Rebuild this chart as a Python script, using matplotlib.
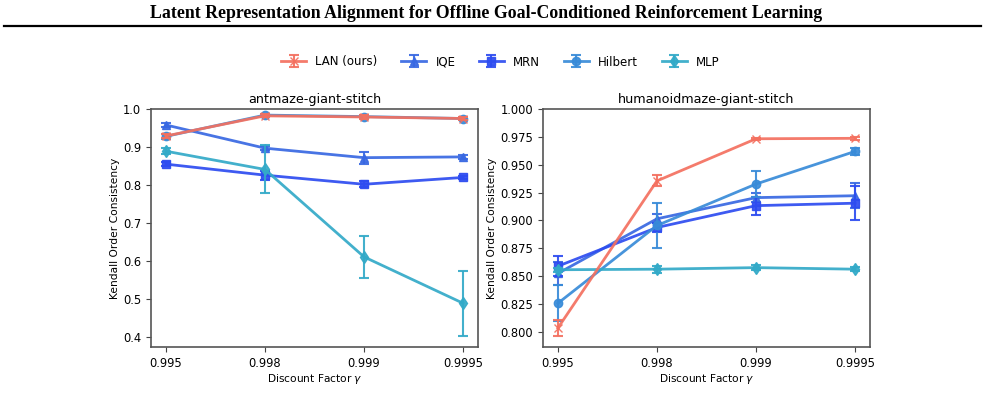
import numpy as np
import matplotlib.pyplot as plt
from matplotlib.lines import Line2D

gammas = ['0.995', '0.998', '0.999', '0.9995']
methods = ['LAN (ours)', 'IQE', 'MRN', 'Hilbert', 'MLP']
colors = ['#F4705F', '#3868E2', '#2D4CF0', '#388BD8', '#33AAC8']
markers = ['x', '^', 's', 'o', 'd']

# antmaze-giant-stitch
ant_mean = {
    'LAN (ours)': [0.929, 0.982, 0.979, 0.975],
    'IQE':        [0.958, 0.897, 0.872, 0.874],
    'MRN':        [0.855, 0.826, 0.802, 0.820],
    'Hilbert':    [0.928, 0.984, 0.980, 0.975],
    'MLP':        [0.889, 0.841, 0.611, 0.489],
}
ant_err = {
    'LAN (ours)': [0.006, 0.004, 0.004, 0.003],
    'IQE':        [0.005, 0.006, 0.016, 0.005],
    'MRN':        [0.006, 0.012, 0.008, 0.005],
    'Hilbert':    [0.006, 0.004, 0.004, 0.003],
    'MLP':        [0.008, 0.063, 0.056, 0.086],
}

# humanoidmaze-giant-stitch
hum_mean = {
    'LAN (ours)': [0.8035, 0.9355, 0.9733, 0.9737],
    'IQE':        [0.8525, 0.9015, 0.9205, 0.9222],
    'MRN':        [0.8590, 0.8937, 0.9133, 0.9155],
    'Hilbert':    [0.8257, 0.8955, 0.9327, 0.9620],
    'MLP':        [0.8558, 0.8563, 0.8577, 0.8563],
}
hum_err = {
    'LAN (ours)': [0.007, 0.005, 0.001, 0.0015],
    'IQE':        [0.010, 0.004, 0.004, 0.011],
    'MRN':        [0.009, 0.004, 0.008, 0.015],
    'Hilbert':    [0.016, 0.020, 0.012, 0.003],
    'MLP':        [0.002, 0.003, 0.002, 0.002],
}

plt.rcParams['font.family'] = 'DejaVu Sans'
fig = plt.figure(figsize=(9.85, 4.05), dpi=100)

# page header
fig.text(0.493, 1 - 13 / 405, 'Latent Representation Alignment for Offline Goal-Conditioned Reinforcement Learning',
         ha='center', va='center', fontsize=12.8, fontweight='bold', family='Liberation Serif')
fig.add_artist(Line2D([4 / 985, 981 / 985], [1 - 26 / 405, 1 - 26 / 405], color='black', lw=1.6))

x = np.arange(len(gammas))


def draw(ax, means, errs, title, ylim, yticks, fmt):
    for i, (m, c, mk) in enumerate(zip(methods, colors, markers)):
        z = 5 if m == 'LAN (ours)' else 2 + i * 0.1
        ax.errorbar(x, means[m], yerr=errs[m], color=c, marker=mk, markersize=6,
                    lw=2, elinewidth=1.5, capsize=3.5, capthick=1.5, alpha=0.92,
                    label=m, zorder=z)
    ax.set_xlim(-0.15, 3.15)
    ax.set_ylim(*ylim)
    ax.set_xticks(x)
    ax.set_xticklabels(gammas)
    ax.set_yticks(yticks)
    ax.set_yticklabels([fmt.format(v) for v in yticks])
    ax.set_title(title, fontsize=9.2, pad=4)
    ax.set_xlabel(r'Discount Factor $\gamma$', fontsize=7.7, labelpad=2)
    ax.set_ylabel('Kendall Order Consistency', fontsize=7.7, labelpad=2.5)
    ax.tick_params(labelsize=8.3, color='#444444', length=3.5)
    for s in ax.spines.values():
        s.set_color('#555555')
        s.set_linewidth(1.2)


ax1 = fig.add_axes([151 / 985, 58 / 405, 327 / 985, 238 / 405])
draw(ax1, ant_mean, ant_err, 'antmaze-giant-stitch', (0.374, 1.0),
     np.arange(0.4, 1.01, 0.1), '{:.1f}')

ax2 = fig.add_axes([543 / 985, 58 / 405, 327 / 985, 238 / 405])
draw(ax2, hum_mean, hum_err, 'humanoidmaze-giant-stitch', (0.7865, 1.0),
     np.arange(0.8, 1.001, 0.025), '{:.3f}')

handles, labels = ax1.get_legend_handles_labels()
fig.legend([handles[labels.index(m)] for m in methods], methods, loc='center',
           bbox_to_anchor=(0.508, 1 - 62 / 405), ncol=5,
           frameon=False, fontsize=8.5, columnspacing=2.0, handlelength=2.1)

fig.savefig('out.png', dpi=100)
